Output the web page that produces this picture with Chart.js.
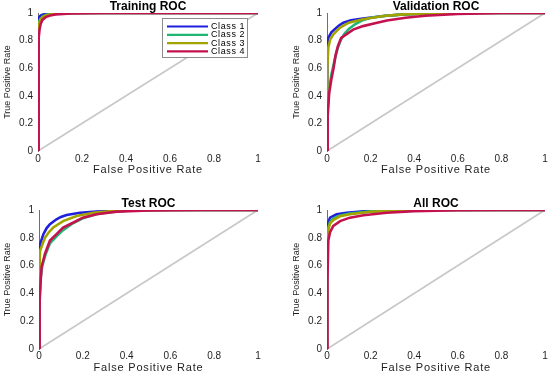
<!DOCTYPE html>
<html>
<head>
<meta charset="utf-8">
<script src="https://cdn.jsdelivr.net/npm/chart.js@4.4.1/dist/chart.umd.min.js"></script>
<style>
  body { margin: 0; background: #fff; }
  #wrap { position: relative; width: 550px; height: 373px; overflow: hidden; }
  .panel { position: absolute; }
</style>
</head>
<body>
<div id="wrap">
  <canvas id="roc_train" class="panel" width="275" height="186" style="left:0;top:0"></canvas>
  <canvas id="roc_val" class="panel" width="275" height="186" style="left:275px;top:0"></canvas>
  <canvas id="roc_test" class="panel" width="275" height="187" style="left:0;top:186px"></canvas>
  <canvas id="roc_all" class="panel" width="275" height="187" style="left:275px;top:186px"></canvas>
</div>
<script>
// data, [false positive rate, true positive rate]
const classNames = ["Class 1", "Class 2", "Class 3", "Class 4"];
const tickValues = [0, 0.2, 0.4, 0.6, 0.8, 1];
const tickLabels = ["0", "0.2", "0.4", "0.6", "0.8", "1"];
const chanceLine = [[0, 0], [1, 1]];

const trainC1 = [[0,0],[0,0.92],[0.003,0.96],[0.008,0.975],[0.015,0.985],[0.03,0.992],[0.06,0.997],[0.12,1],[1,1]];
const trainC2 = [[0,0],[0,0.88],[0.004,0.93],[0.01,0.955],[0.02,0.972],[0.035,0.985],[0.06,0.993],[0.1,0.998],[0.2,1],[1,1]];
const trainC3 = [[0,0],[0,0.86],[0.005,0.92],[0.01,0.95],[0.02,0.97],[0.04,0.985],[0.07,0.993],[0.12,0.998],[0.25,1],[1,1]];
const trainC4 = [[0,0],[0.002,0.6],[0.004,0.82],[0.007,0.88],[0.012,0.92],[0.02,0.95],[0.035,0.97],[0.055,0.982],[0.08,0.99],[0.15,0.996],[0.3,1],[1,1]];

const valC1 = [[0,0],[0,0.45],[0.003,0.75],[0.006,0.82],[0.02,0.86],[0.037,0.885],[0.055,0.91],[0.075,0.93],[0.11,0.947],[0.165,0.96],[0.26,0.978],[0.35,0.99],[0.45,0.997],[0.6,1],[1,1]];
const valC2 = [[0,0],[0.003,0.3],[0.01,0.45],[0.02,0.55],[0.035,0.66],[0.05,0.75],[0.065,0.81],[0.08,0.85],[0.1,0.885],[0.13,0.92],[0.16,0.945],[0.2,0.965],[0.26,0.978],[0.35,0.99],[0.5,0.998],[0.7,1],[1,1]];
const valC3 = [[0,0],[0,0.4],[0.003,0.6],[0.006,0.75],[0.015,0.81],[0.03,0.847],[0.06,0.895],[0.1,0.93],[0.165,0.955],[0.26,0.978],[0.35,0.99],[0.45,0.997],[0.6,1],[1,1]];
const valC4 = [[0,0],[0.003,0.25],[0.01,0.42],[0.02,0.52],[0.03,0.6],[0.04,0.7],[0.05,0.76],[0.065,0.82],[0.09,0.847],[0.12,0.88],[0.165,0.905],[0.225,0.927],[0.275,0.945],[0.36,0.966],[0.45,0.98],[0.6,0.993],[0.8,1],[1,1]];

const testC1 = [[0,0],[0,0.7],[0.005,0.755],[0.02,0.826],[0.035,0.87],[0.05,0.898],[0.08,0.933],[0.1,0.95],[0.126,0.964],[0.187,0.98],[0.263,0.988],[0.35,0.995],[0.48,1],[1,1]];
const testC2 = [[0,0],[0.002,0.35],[0.008,0.52],[0.015,0.6],[0.03,0.68],[0.05,0.76],[0.08,0.81],[0.11,0.855],[0.15,0.9],[0.2,0.94],[0.26,0.97],[0.32,0.985],[0.4,0.995],[0.6,1],[1,1]];
const testC3 = [[0,0],[0,0.5],[0.005,0.707],[0.027,0.8],[0.045,0.84],[0.065,0.874],[0.11,0.92],[0.172,0.957],[0.248,0.98],[0.32,0.99],[0.45,0.998],[0.6,1],[1,1]];
const testC4 = [[0,0],[0.003,0.35],[0.008,0.5],[0.012,0.59],[0.027,0.684],[0.05,0.78],[0.08,0.826],[0.11,0.874],[0.157,0.91],[0.2,0.945],[0.263,0.97],[0.355,0.988],[0.5,0.997],[0.75,1],[1,1]];

const allC1 = [[0,0],[0,0.85],[0.005,0.91],[0.014,0.945],[0.044,0.969],[0.09,0.98],[0.167,0.99],[0.3,0.998],[0.45,1],[1,1]];
const allC2 = [[0,0],[0,0.78],[0.006,0.87],[0.014,0.915],[0.03,0.94],[0.06,0.96],[0.105,0.975],[0.2,0.99],[0.35,0.998],[0.5,1],[1,1]];
const allC3 = [[0,0],[0,0.75],[0.006,0.86],[0.014,0.905],[0.03,0.93],[0.06,0.955],[0.105,0.97],[0.2,0.987],[0.35,0.997],[0.5,1],[1,1]];
const allC4 = [[0,0],[0.002,0.5],[0.006,0.78],[0.014,0.84],[0.029,0.886],[0.06,0.92],[0.105,0.945],[0.167,0.962],[0.274,0.98],[0.4,0.992],[0.6,0.998],[0.8,1],[1,1]];

// styles
const classColors = ["#1f1fe0", "#1fb573", "#a3a300", "#c4124f"];
const fontFamily = '"Liberation Sans", Arial, sans-serif';
const textColor = "#1e1e1e";

// titles are drawn before the curves with no spacing, tick text after with a bit of spacing
const textSpacing = {
  id: "textSpacing",
  beforeDraw(chart) { chart.ctx.letterSpacing = "0px"; },
  afterDatasetsDraw(chart) { chart.ctx.letterSpacing = "0.8px"; }
};

// boxed legend at the top right of the training plot
const rocLegend = {
  id: "rocLegend",
  afterDraw(chart) {
    const ctx = chart.ctx, a = chart.chartArea;
    const w = 86, h = 40, left = a.right - 10 - w, top = a.top + 5;
    ctx.save();
    ctx.letterSpacing = "0.6px";
    ctx.fillStyle = "#fff";
    ctx.fillRect(left, top, w, h);
    ctx.strokeStyle = "#8c8c8c";
    ctx.lineWidth = 1;
    ctx.strokeRect(left + 0.5, top + 0.5, w - 1, h - 1);
    ctx.font = "9px " + fontFamily;
    ctx.textBaseline = "middle";
    chart.data.datasets.forEach(ds => {
      if (ds.classIndex === undefined) return;
      const y = top + 8.5 + ds.classIndex * 8.3;
      ctx.strokeStyle = ds.borderColor;
      ctx.lineWidth = 2.2;
      ctx.beginPath();
      ctx.moveTo(left + 5, y);
      ctx.lineTo(left + 46, y);
      ctx.stroke();
      ctx.fillStyle = "#000";
      ctx.fillText(ds.label, left + 49, y);
    });
    ctx.restore();
  }
};

function toPoints(arr) {
  return arr.map(p => ({ x: p[0], y: p[1] }));
}

function makeRoc(id, title, curves, L, withLegend) {
  let datasets = curves.map((c, i) => ({
    label: classNames[i],
    classIndex: i,
    data: toPoints(c),
    borderColor: classColors[i],
    borderWidth: 2.6,
    order: 3 - i
  }));
  datasets.push({
    label: "chance",
    data: toPoints(chanceLine),
    borderColor: "#c8c8c8",
    borderWidth: 1.8,
    order: 4
  });
  datasets.forEach(d => { d.showLine = true; d.pointRadius = 0; d.fill = false; d.tension = 0; });

  let plugins = [textSpacing];
  if (withLegend) plugins.push(rocLegend);

  new Chart(document.getElementById(id), {
    type: "scatter",
    data: { datasets: datasets },
    plugins: plugins,
    options: {
      responsive: false,
      animation: false,
      devicePixelRatio: 1,
      events: [],
      layout: { padding: { top: L.top, left: 0, right: L.right, bottom: 0 } },
      plugins: {
        legend: { display: false },
        tooltip: { enabled: false },
        title: {
          display: true,
          text: title,
          color: "#000",
          fullSize: false,
          padding: { top: 0, bottom: 0 },
          font: { family: fontFamily, size: 12, weight: "bold", lineHeight: 1 }
        }
      },
      scales: {
        x: {
          type: "linear", min: 0, max: 1, z: 1,
          afterBuildTicks: s => { s.ticks = tickValues.map(v => ({ value: v })); },
          afterFit: s => { s.height = L.xh; },
          grid: { display: false, drawTicks: false, z: 1 },
          border: { display: false },
          ticks: {
            autoSkip: false, maxRotation: 0, padding: L.xtp, color: textColor,
            font: { family: fontFamily, size: 10 },
            callback: (v, i) => tickLabels[i]
          },
          title: {
            display: true, text: "False Positive Rate", color: textColor,
            font: { family: fontFamily, size: 11, lineHeight: 1 },
            padding: { top: 0, bottom: L.xlp }
          }
        },
        y: {
          type: "linear", min: 0, max: 1, z: 1,
          afterBuildTicks: s => { s.ticks = tickValues.map(v => ({ value: v })); },
          afterFit: s => { s.width = L.yw; },
          grid: { display: false, drawTicks: false },
          border: { display: true, color: "#6e6e6e", width: 1 },
          ticks: {
            autoSkip: false, padding: 5, color: textColor,
            font: { family: fontFamily, size: 10 },
            callback: (v, i) => tickLabels[i]
          },
          title: {
            display: true, text: "True Positive Rate", color: textColor,
            font: { family: fontFamily, size: 9, lineHeight: 1 },
            padding: { top: L.ylp, bottom: 0 }
          }
        }
      }
    }
  });
}

const leftTop = { top: 1, right: 17, yw: 38, xh: 35, xtp: 2, xlp: 10.5, ylp: 3 };
const rightTop = { top: 1, right: 5, yw: 52, xh: 35, xtp: 2, xlp: 10.5, ylp: 17 };
const leftBottom = { top: 12, right: 17, yw: 39, xh: 24, xtp: 1, xlp: 0, ylp: 3 };
const rightBottom = { top: 12, right: 5, yw: 52, xh: 24, xtp: 1, xlp: 0, ylp: 17 };

makeRoc("roc_train", "Training ROC", [trainC1, trainC2, trainC3, trainC4], leftTop, true);
makeRoc("roc_val", "Validation ROC", [valC1, valC2, valC3, valC4], rightTop, false);
makeRoc("roc_test", "Test ROC", [testC1, testC2, testC3, testC4], leftBottom, false);
makeRoc("roc_all", "All ROC", [allC1, allC2, allC3, allC4], rightBottom, false);
</script>
</body>
</html>
